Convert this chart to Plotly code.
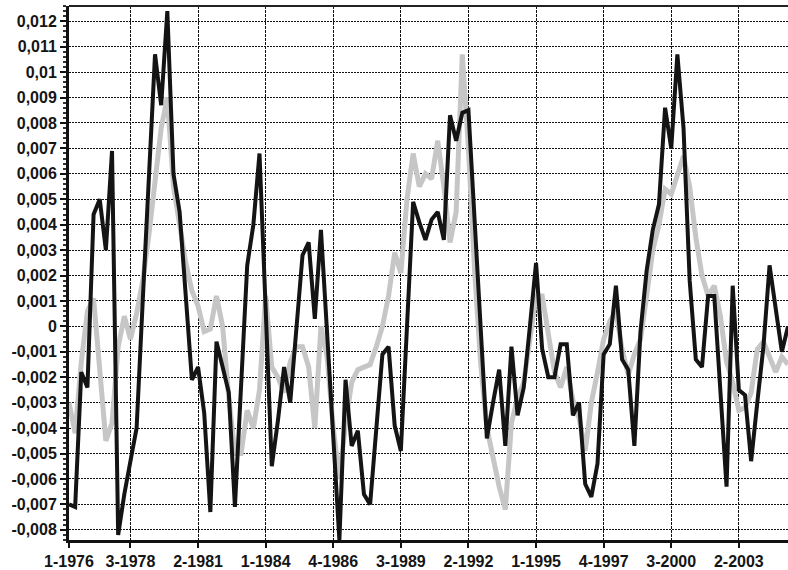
import plotly.graph_objects as go

# Quarterly periods, 1-1976 .. 2-2005, labelled "quarter-year"
start_year = 1976
n_periods = 118
periods = [f"{q % 4 + 1}-{start_year + q // 4}" for q in range(n_periods)]

# Labelled periods along the horizontal axis
tick_labels = ["1-1976", "3-1978", "2-1981", "1-1984", "4-1986", "3-1989",
               "2-1992", "1-1995", "4-1997", "3-2000", "2-2003"]

# Dark series (quarterly)
series_dark = [
    -0.0070, -0.0071, -0.0018, -0.0024, 0.0044, 0.0050, 0.0030, 0.0069, -0.0082, -0.0066,
    -0.0053, -0.0040, 0.0010, 0.0059, 0.0107, 0.0087, 0.0124, 0.0060, 0.0045, 0.0012,
    -0.0021, -0.0016, -0.0034, -0.0073, -0.0006, -0.0016, -0.0026, -0.0071, -0.0024, 0.0024,
    0.0040, 0.0068, 0.0007, -0.0055, -0.0037, -0.0016, -0.0030, 0.0000, 0.0028, 0.0033,
    0.0003, 0.0038, -0.0002, -0.0040, -0.0084, -0.0021, -0.0047, -0.0041, -0.0066, -0.0070,
    -0.0040, -0.0011, -0.0008, -0.0039, -0.0049, 0.0000, 0.0049, 0.0041, 0.0034, 0.0042,
    0.0045, 0.0034, 0.0083, 0.0073, 0.0084, 0.0085, 0.0042, -0.0001, -0.0044, -0.0030,
    -0.0017, -0.0047, -0.0008, -0.0035, -0.0024, 0.0000, 0.0025, -0.0009, -0.0020, -0.0020,
    -0.0007, -0.0007, -0.0035, -0.0030, -0.0062, -0.0067, -0.0054, -0.0011, -0.0007, 0.0016,
    -0.0013, -0.0017, -0.0047, -0.0002, 0.0022, 0.0038, 0.0048, 0.0086, 0.0070, 0.0107,
    0.0078, 0.0018, -0.0013, -0.0016, 0.0012, 0.0012, -0.0025, -0.0063, 0.0016, -0.0025,
    -0.0027, -0.0053, -0.0030, -0.0008, 0.0024, 0.0007, -0.0010, 0.0000,
]

# Light series (quarterly)
series_light = [
    -0.0030, -0.0042, -0.0014, 0.0006, 0.0011, -0.0018, -0.0045, -0.0038, -0.0008, 0.0004,
    -0.0005, 0.0005, 0.0018, 0.0036, 0.0056, 0.0078, 0.0090, 0.0055, 0.0040, 0.0025,
    0.0014, 0.0008, -0.0002, -0.0001, 0.0012, 0.0000, -0.0028, -0.0050, -0.0050, -0.0033,
    -0.0040, -0.0025, 0.0012, -0.0016, -0.0020, -0.0026, -0.0014, -0.0008, -0.0008, -0.0016,
    -0.0040, 0.0000, -0.0012, -0.0040, -0.0060, -0.0038, -0.0022, -0.0017, -0.0016, -0.0015,
    -0.0008, 0.0000, 0.0012, 0.0029, 0.0021, 0.0050, 0.0068, 0.0055, 0.0060, 0.0058,
    0.0073, 0.0055, 0.0033, 0.0045, 0.0107, 0.0070, 0.0022, -0.0015, -0.0040, -0.0052,
    -0.0063, -0.0072, -0.0038, -0.0028, -0.0022, -0.0005, 0.0012, 0.0012, -0.0002, -0.0018,
    -0.0024, -0.0016, -0.0029, -0.0036, -0.0049, -0.0030, -0.0018, -0.0005, 0.0002, 0.0006,
    -0.0009, -0.0019, -0.0011, -0.0005, 0.0012, 0.0030, 0.0040, 0.0054, 0.0052, 0.0060,
    0.0067, 0.0055, 0.0035, 0.0020, 0.0012, 0.0016, 0.0004, -0.0014, -0.0022, -0.0033,
    -0.0032, -0.0026, -0.0009, -0.0006, -0.0012, -0.0018, -0.0012, -0.0015,
]

# Value axis ticks
y_ticks = [-0.008, -0.007, -0.006, -0.005, -0.004, -0.003, -0.002, -0.001, 0.0,
           0.001, 0.002, 0.003, 0.004, 0.005, 0.006, 0.007, 0.008, 0.009, 0.01,
           0.011, 0.012]


def comma_label(v):
    if abs(v) < 1e-12:
        return "0"
    s = f"{v:.3f}".rstrip("0")
    return s.replace(".", ",")


x_idx = list(range(len(periods)))
tick_idx = [periods.index(t) for t in tick_labels]

font_axis = dict(family="Liberation Sans, Arial, sans-serif", size=16,
                 color="#151515", weight="bold")

fig = go.Figure()
fig.add_trace(go.Scatter(
    x=x_idx, y=series_light, mode="lines",
    line=dict(color="#c6c6c6", width=5),
    hoverinfo="skip",
))
fig.add_trace(go.Scatter(
    x=x_idx, y=series_dark, mode="lines",
    line=dict(color="#141414", width=4),
    hoverinfo="skip",
))

fig.update_layout(
    width=788, height=570,
    margin=dict(l=69, r=0, t=6, b=28),
    paper_bgcolor="white", plot_bgcolor="white",
    showlegend=False,
    xaxis=dict(
        range=[0, len(periods) - 1],
        tickmode="array", tickvals=tick_idx, ticktext=tick_labels,
        showgrid=True, gridcolor="#111", gridwidth=1, griddash="3px,1px",
        showline=True, linecolor="#111", linewidth=3,
        ticks="outside", ticklen=5, tickcolor="#111", tickwidth=1.5,
        tickfont=font_axis, zeroline=False,
    ),
    yaxis=dict(
        range=[-0.0084, 0.0126],
        tickmode="array", tickvals=y_ticks,
        ticktext=[comma_label(v) for v in y_ticks],
        showgrid=True, gridcolor="#111", gridwidth=1, griddash="2px,1px",
        showline=True, linecolor="#111", linewidth=3,
        ticks="outside", ticklen=6, tickcolor="#111", tickwidth=1.5,
        tickfont=font_axis, zeroline=False,
        minor=dict(ticks="outside", ticklen=3, tickcolor="#333",
                   dtick=0.0002, showgrid=False),
    ),
    shapes=[dict(type="line", xref="paper", yref="paper",
                 x0=0, x1=1, y0=1, y1=1,
                 line=dict(color="#222", width=2))],
)

fig.write_html("out.html")
